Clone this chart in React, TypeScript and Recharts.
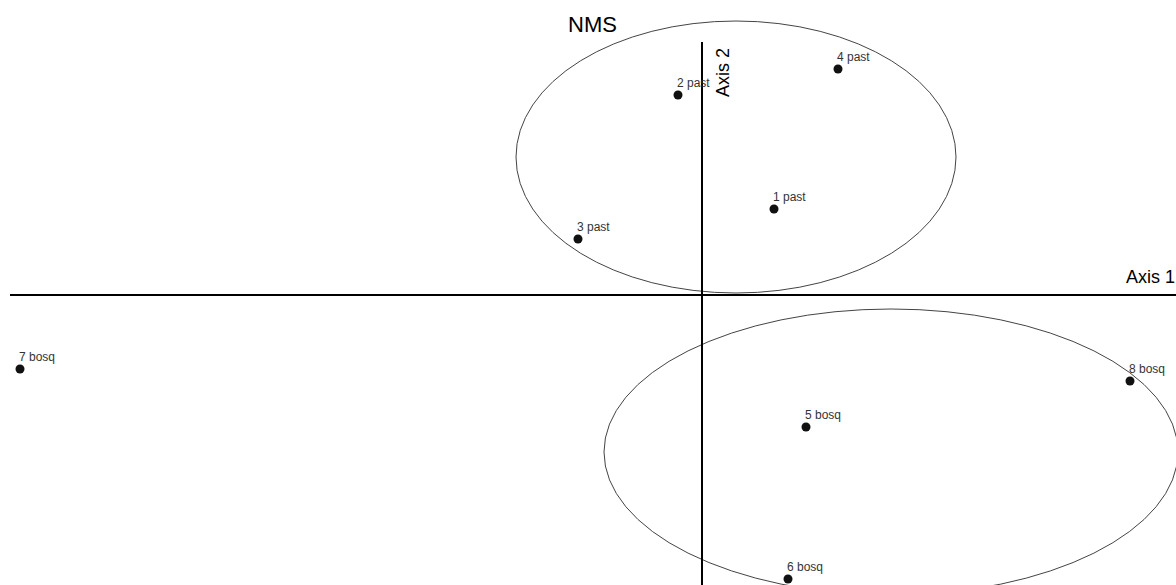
import { ScatterChart, Scatter, XAxis, YAxis, ReferenceLine, ReferenceArea, Label } from "recharts";

// NMS ordination scores
const siteLabels = ["1 past", "2 past", "3 past", "4 past", "5 bosq", "6 bosq", "7 bosq", "8 bosq"];
const axis1Scores = [0.36, -0.12, -0.62, 0.68, 0.52, 0.43, -3.41, 2.14];
const axis2Scores = [0.43, 1.0, 0.28, 1.13, -0.66, -1.42, -0.37, -0.43];

// group ellipses (bounding box in score units)
const groupNames = ["past", "bosq"];
const groupAxis1Min = [-0.93, -0.49];
const groupAxis1Max = [1.27, 2.38];
const groupAxis2Min = [0.01, -1.5];
const groupAxis2Max = [1.37, -0.07];

const axis1Domain = [-3.51, 2.37];
const axis2Domain = [-1.45, 1.475];
const axis1Extent = [-3.46, 2.37];
const axis2Extent = [-1.45, 1.265];

const data = siteLabels.map((label, i) => ({ label, x: axis1Scores[i], y: axis2Scores[i] }));

const FONT = "'Liberation Sans', Arial, sans-serif";

const SiteDot = (props: any) => {
  const { cx, cy, payload } = props;
  return (
    <g>
      <circle cx={cx} cy={cy} r={4.5} fill="#111" />
      <text x={cx - 1} y={cy - 8} fontSize={12} fontFamily={FONT} fill="#333">
        {payload.label}
      </text>
    </g>
  );
};

const EllipseShape = (props: any) => {
  const { x, y, width, height } = props;
  return (
    <ellipse
      cx={x + width / 2}
      cy={y + height / 2}
      rx={Math.abs(width) / 2}
      ry={Math.abs(height) / 2}
      fill="none"
      stroke="#444"
      strokeWidth={1}
    />
  );
};

export default function App() {
  return (
    <div style={{ position: "absolute", left: 0, top: 0, background: "#fff" }}>
      <ScatterChart width={1176} height={585} margin={{ top: 0, right: 0, bottom: 0, left: 0 }}>
        <XAxis type="number" dataKey="x" domain={axis1Domain} allowDataOverflow hide />
        <YAxis type="number" dataKey="y" domain={axis2Domain} allowDataOverflow hide />
        {groupNames.map((g, i) => (
          <ReferenceArea
            key={g}
            x1={groupAxis1Min[i]}
            x2={groupAxis1Max[i]}
            y1={groupAxis2Min[i]}
            y2={groupAxis2Max[i]}
            ifOverflow="visible"
            shape={EllipseShape}
          />
        ))}
        <ReferenceLine
          segment={[{ x: axis1Extent[0], y: 0 }, { x: axis1Extent[1], y: 0 }]}
          stroke="#000"
          strokeWidth={2}
          ifOverflow="visible"
        >
          <Label
            content={({ viewBox }: any) => (
              <text
                x={viewBox.x + viewBox.width - 1}
                y={viewBox.y - 12}
                textAnchor="end"
                fontSize={18}
                fontFamily={FONT}
                fill="#000"
              >
                Axis 1
              </text>
            )}
          />
        </ReferenceLine>
        <ReferenceLine
          segment={[{ x: 0, y: axis2Extent[1] }, { x: 0, y: axis2Extent[0] }]}
          stroke="#000"
          strokeWidth={2}
          ifOverflow="visible"
        >
          <Label
            content={({ viewBox }: any) => (
              <text
                x={viewBox.x + 27}
                y={viewBox.y + 55}
                transform={`rotate(-90, ${viewBox.x + 27}, ${viewBox.y + 55})`}
                fontSize={18}
                fontFamily={FONT}
                fill="#000"
              >
                Axis 2
              </text>
            )}
          />
        </ReferenceLine>
        <Scatter data={data} shape={SiteDot} isAnimationActive={false} />
        <text x={568} y={32} fontSize={22} fontFamily={FONT} fill="#000">
          NMS
        </text>
      </ScatterChart>
    </div>
  );
}
